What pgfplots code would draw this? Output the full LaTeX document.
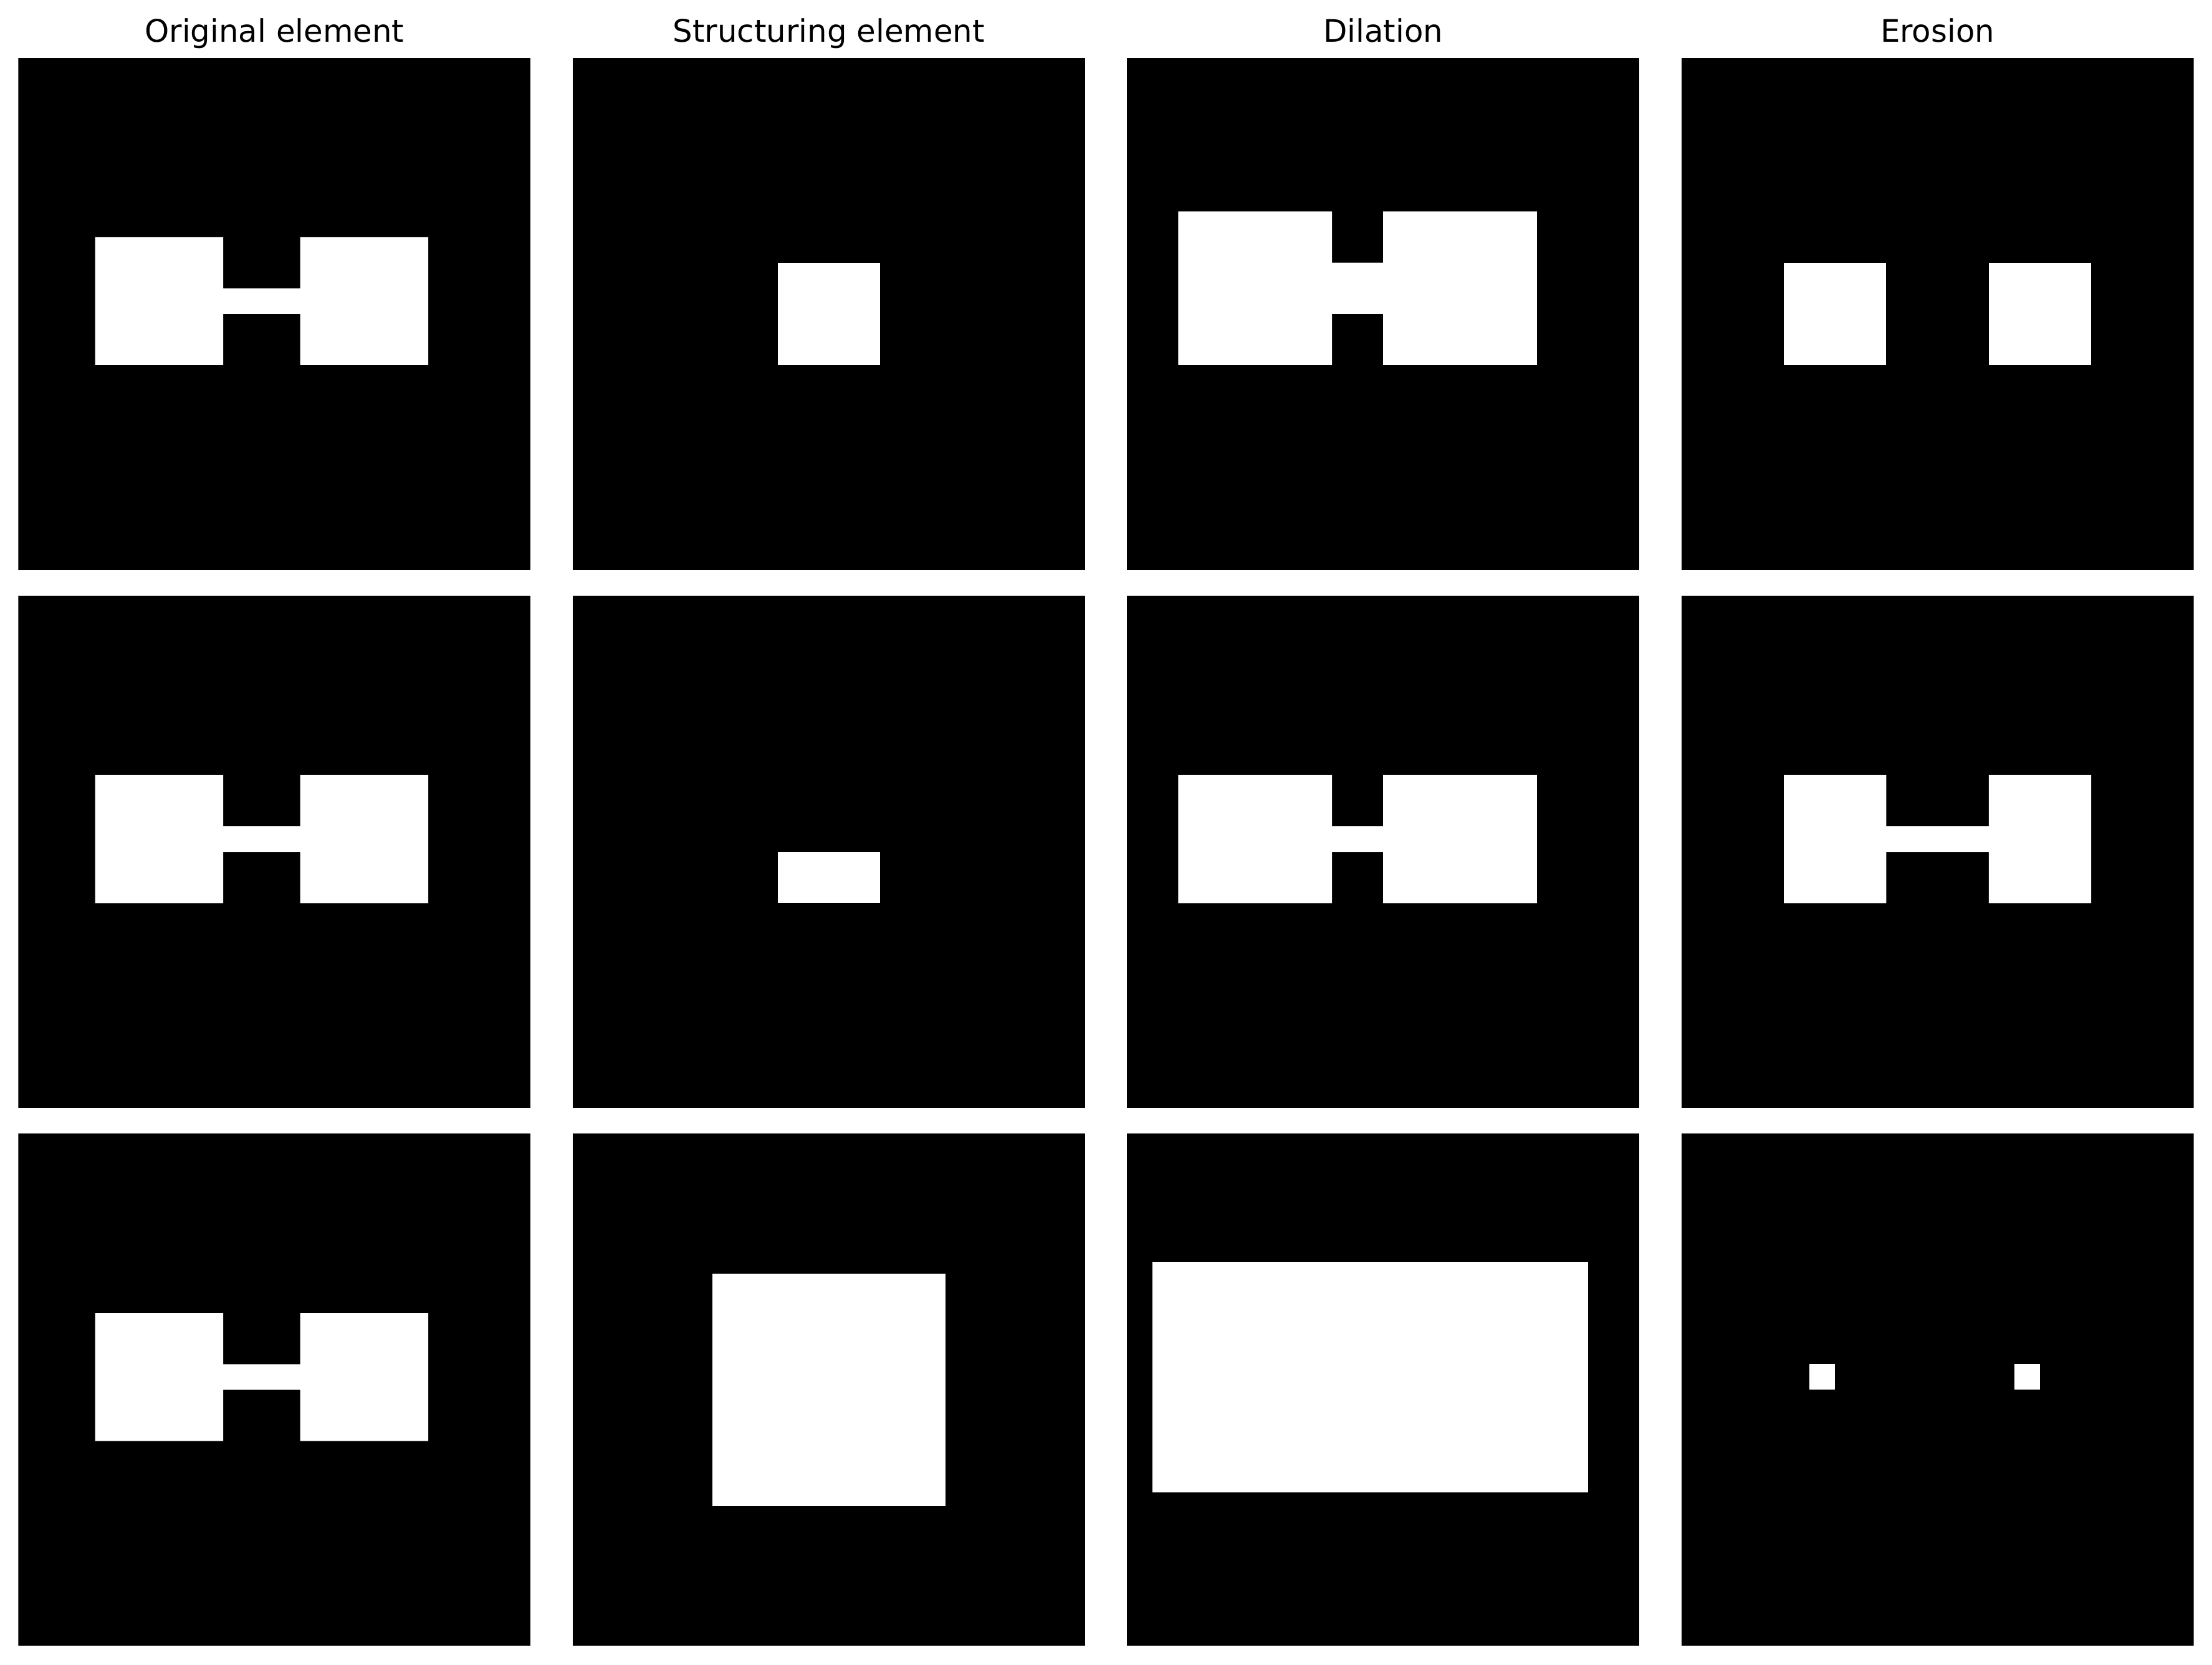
\documentclass[border=0pt]{standalone}
\usepackage{fontspec}
\setmainfont{DejaVu Sans}
\usepackage{pgfplots}
\pgfplotsset{compat=1.18}
\usepgfplotslibrary{groupplots}
\usetikzlibrary{calc}

\pgfplotsset{
  morph/.style={
    scale only axis, width=197.28bp, height=197.28bp,
    xmin=0, xmax=20, ymin=0, ymax=20, y dir=reverse,
    hide axis,
    title style={font=\fontsize{12}{14}\selectfont, anchor=base, at={(0.5,1)}, inner sep=0pt},
  },
  bg/.style={fill=black, draw=none, forget plot},
  fg/.style={fill=white, draw=none, forget plot},
}

\begin{document}
\begin{tikzpicture}
\begin{groupplot}[group style={group size=4 by 3, horizontal sep=16.18bp, vertical sep=9.92bp}, morph]
% ---------- row 1 ----------
\nextgroupplot[title={Original element}]
\addplot[bg] coordinates {(0,0) (20,0) (20,20) (0,20)} -- cycle;
\addplot[fg] coordinates {(3,7) (8,7) (8,9) (11,9) (11,7) (16,7) (16,12) (11,12) (11,10) (8,10) (8,12) (3,12)} -- cycle;
\nextgroupplot[title={Structuring element}]
\addplot[bg] coordinates {(0,0) (20,0) (20,20) (0,20)} -- cycle;
\addplot[fg] coordinates {(8,8) (12,8) (12,12) (8,12)} -- cycle;
\nextgroupplot[title={Dilation}]
\addplot[bg] coordinates {(0,0) (20,0) (20,20) (0,20)} -- cycle;
\addplot[fg] coordinates {(2,6) (8,6) (8,8) (10,8) (10,6) (16,6) (16,12) (10,12) (10,10) (8,10) (8,12) (2,12)} -- cycle;
\nextgroupplot[title={Erosion}]
\addplot[bg] coordinates {(0,0) (20,0) (20,20) (0,20)} -- cycle;
\addplot[fg] coordinates {(4,8) (8,8) (8,12) (4,12)} -- cycle;
\addplot[fg] coordinates {(12,8) (16,8) (16,12) (12,12)} -- cycle;
% ---------- row 2 ----------
\nextgroupplot
\addplot[bg] coordinates {(0,0) (20,0) (20,20) (0,20)} -- cycle;
\addplot[fg] coordinates {(3,7) (8,7) (8,9) (11,9) (11,7) (16,7) (16,12) (11,12) (11,10) (8,10) (8,12) (3,12)} -- cycle;
\nextgroupplot
\addplot[bg] coordinates {(0,0) (20,0) (20,20) (0,20)} -- cycle;
\addplot[fg] coordinates {(8,10) (12,10) (12,12) (8,12)} -- cycle;
\nextgroupplot
\addplot[bg] coordinates {(0,0) (20,0) (20,20) (0,20)} -- cycle;
\addplot[fg] coordinates {(2,7) (8,7) (8,9) (10,9) (10,7) (16,7) (16,12) (10,12) (10,10) (8,10) (8,12) (2,12)} -- cycle;
\nextgroupplot
\addplot[bg] coordinates {(0,0) (20,0) (20,20) (0,20)} -- cycle;
\addplot[fg] coordinates {(4,7) (8,7) (8,9) (12,9) (12,7) (16,7) (16,12) (12,12) (12,10) (8,10) (8,12) (4,12)} -- cycle;
% ---------- row 3 ----------
\nextgroupplot
\addplot[bg] coordinates {(0,0) (20,0) (20,20) (0,20)} -- cycle;
\addplot[fg] coordinates {(3,7) (8,7) (8,9) (11,9) (11,7) (16,7) (16,12) (11,12) (11,10) (8,10) (8,12) (3,12)} -- cycle;
\nextgroupplot[xmax=11, ymax=11]
\addplot[bg] coordinates {(0,0) (11,0) (11,11) (0,11)} -- cycle;
\addplot[fg] coordinates {(3,3) (8,3) (8,8) (3,8)} -- cycle;
\nextgroupplot
\addplot[bg] coordinates {(0,0) (20,0) (20,20) (0,20)} -- cycle;
\addplot[fg] coordinates {(1,5) (18,5) (18,14) (1,14)} -- cycle;
\nextgroupplot
\addplot[bg] coordinates {(0,0) (20,0) (20,20) (0,20)} -- cycle;
\addplot[fg] coordinates {(5,9) (6,9) (6,10) (5,10)} -- cycle;
\addplot[fg] coordinates {(13,9) (14,9) (14,10) (13,10)} -- cycle;
\end{groupplot}
\pgfresetboundingbox
\path[use as bounding box] ($(group c1r1.north west)+(-7.06bp,22.27bp)$) rectangle ($(group c4r3.south east)+(7.06bp,-7.32bp)$);
\end{tikzpicture}
\end{document}
